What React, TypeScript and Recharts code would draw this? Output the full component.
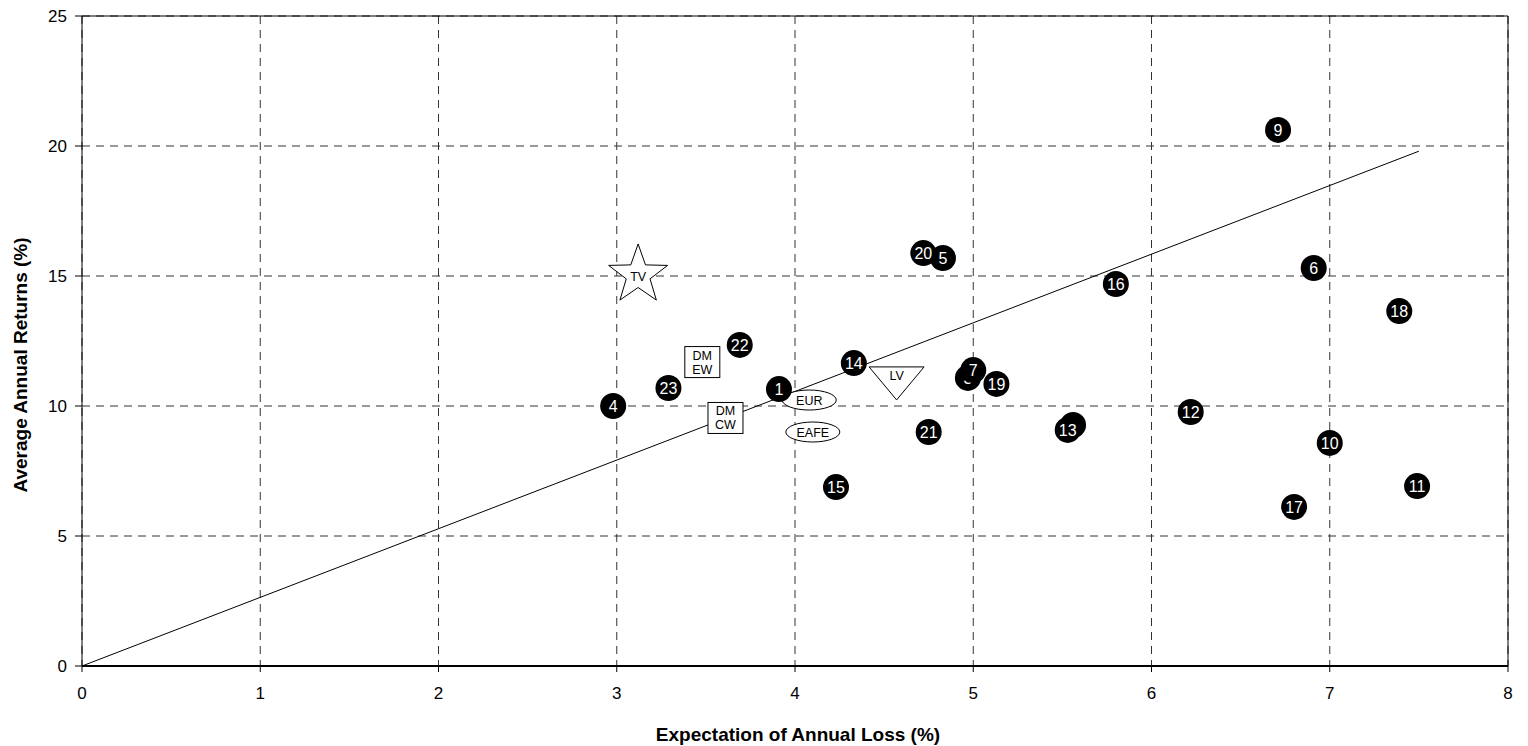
import React from 'react'
import {ScatterChart, Scatter, XAxis, YAxis, CartesianGrid, ReferenceLine} from 'recharts'

// numbered strategies (the one hidden behind 13 shows no readable number)
const pointIds = ['1', '3', '4', '5', '6', '7', '', '9', '10', '11', '12', '13', '14', '15', '16', '17', '18', '19', '20', '21', '22', '23']
const pointLoss = [3.91, 4.97, 2.98, 4.83, 6.91, 5.0, 5.56, 6.71, 7.0, 7.49, 6.22, 5.53, 4.33, 4.23, 5.8, 6.8, 7.39, 5.13, 4.72, 4.75, 3.69, 3.29]
const pointReturn = [10.65, 11.08, 10.0, 15.69, 15.31, 11.38, 9.27, 20.62, 8.58, 6.92, 9.77, 9.08, 11.65, 6.88, 14.69, 6.12, 13.65, 10.85, 15.88, 9.0, 12.35, 10.69]

// benchmarks
const benchNames = ['TV', 'DM\nEW', 'DM\nCW', 'EUR', 'EAFE', 'LV']
const benchShapes = ['star', 'box', 'box', 'ellipse', 'ellipse', 'triangle']
const benchLoss = [3.12, 3.48, 3.61, 4.08, 4.1, 4.57]
const benchReturn = [15.0, 11.69, 9.54, 10.23, 9.0, 11.08]

// fitted line
const fitLoss = [0, 7.5]
const fitReturn = [0, 19.8]

const xTicks = [0, 1, 2, 3, 4, 5, 6, 7, 8]
const yTicks = [0, 5, 10, 15, 20, 25]

const FONT = '"Liberation Sans", Arial, sans-serif'

const points = pointIds.map((id, i) => ({id, x: pointLoss[i], y: pointReturn[i]}))
const benches = benchNames.map((name, i) => ({name, shape: benchShapes[i], x: benchLoss[i], y: benchReturn[i]}))

const NumberDot = (props: any) => {
  const {cx, cy, payload} = props
  return (
    <g>
      <circle cx={cx} cy={cy} r={13} fill="#000" />
      {payload.id && (
        <text x={cx} y={cy} dy="0.36em" textAnchor="middle" fontSize={16} fontFamily={FONT} fill="#fff">
          {payload.id}
        </text>
      )}
    </g>
  )
}

const starPath = (cx: number, cy: number, R: number, r: number) => {
  const pts: string[] = []
  for (let k = 0; k < 10; k++) {
    const rad = k % 2 === 0 ? R : r
    const a = -Math.PI / 2 + (k * Math.PI) / 5
    pts.push(`${cx + rad * Math.cos(a)},${cy + rad * Math.sin(a)}`)
  }
  return 'M' + pts.join('L') + 'Z'
}

const BenchMark = (props: any) => {
  const {cx, cy, payload} = props
  const lines: string[] = payload.name.split('\n')
  let outline: React.ReactNode = null
  let ty = cy
  if (payload.shape === 'star') {
    outline = <path d={starPath(cx, cy - 1, 31, 12.5)} fill="#fff" stroke="#000" strokeWidth={1} />
  } else if (payload.shape === 'box') {
    outline = <rect x={cx - 17.5} y={cy - 15.5} width={35} height={31} fill="#fff" stroke="#000" strokeWidth={1} />
  } else if (payload.shape === 'ellipse') {
    outline = <ellipse cx={cx} cy={cy} rx={27} ry={10} fill="#fff" stroke="#000" strokeWidth={1} />
  } else {
    outline = <path d={`M${cx - 27.5},${cy - 11}L${cx + 27.5},${cy - 11}L${cx},${cy + 22}Z`} fill="#fff" stroke="#000" strokeWidth={1} />
    ty = cy - 2
  }
  return (
    <g>
      {outline}
      <text textAnchor="middle" fontSize={12.5} fontFamily={FONT} fill="#000">
        {lines.map((l, i) => (
          <tspan key={i} x={cx} y={ty + (i - (lines.length - 1) / 2) * 14} dy="0.36em">
            {l}
          </tspan>
        ))}
      </text>
    </g>
  )
}

const XTitle = ({viewBox}: any) => (
  <text
    x={viewBox.x + viewBox.width / 2 + 3}
    y={viewBox.y + viewBox.height - 5}
    textAnchor="middle"
    fontSize={19}
    fontWeight="bold"
    fontFamily={FONT}
    fill="#000"
  >
    Expectation of Annual Loss (%)
  </text>
)

const YTitle = ({viewBox}: any) => {
  const x = viewBox.x + 27
  const y = viewBox.y + viewBox.height / 2 + 24
  return (
    <text
      x={x}
      y={y}
      transform={`rotate(-90, ${x}, ${y})`}
      textAnchor="middle"
      fontSize={19}
      fontWeight="bold"
      fontFamily={FONT}
      fill="#000"
    >
      Average Annual Returns (%)
    </text>
  )
}

export default function App() {
  return (
    <div style={{position: 'absolute', left: 0, top: 0, background: '#fff'}}>
      <ScatterChart width={1528} height={746} margin={{top: 16, right: 20, bottom: 0, left: 0}}>
        <CartesianGrid strokeDasharray="8 6" stroke="#333" />
        <XAxis
          type="number"
          dataKey="x"
          domain={[0, 8]}
          ticks={xTicks}
          height={80}
          axisLine={{stroke: '#000', strokeWidth: 2}}
          tickLine={{stroke: '#000'}}
          tickSize={6}
          tickMargin={15}
          tick={{fontSize: 17, fontFamily: FONT, fill: '#000'}}
          label={<XTitle />}
        />
        <YAxis
          type="number"
          dataKey="y"
          domain={[0, 25]}
          ticks={yTicks}
          width={82}
          axisLine={{stroke: '#000'}}
          tickLine={{stroke: '#000'}}
          tickSize={7}
          tickMargin={8}
          tick={{fontSize: 17, fontFamily: FONT, fill: '#000'}}
          label={<YTitle />}
        />
        <ReferenceLine y={25} stroke="#000" />
        <ReferenceLine x={8} stroke="#000" />
        <ReferenceLine
          segment={[
            {x: fitLoss[0], y: fitReturn[0]},
            {x: fitLoss[1], y: fitReturn[1]},
          ]}
          stroke="#000"
          strokeWidth={1}
        />
        <Scatter data={benches} shape={BenchMark} isAnimationActive={false} />
        <Scatter data={points} shape={NumberDot} isAnimationActive={false} />
      </ScatterChart>
    </div>
  )
}
